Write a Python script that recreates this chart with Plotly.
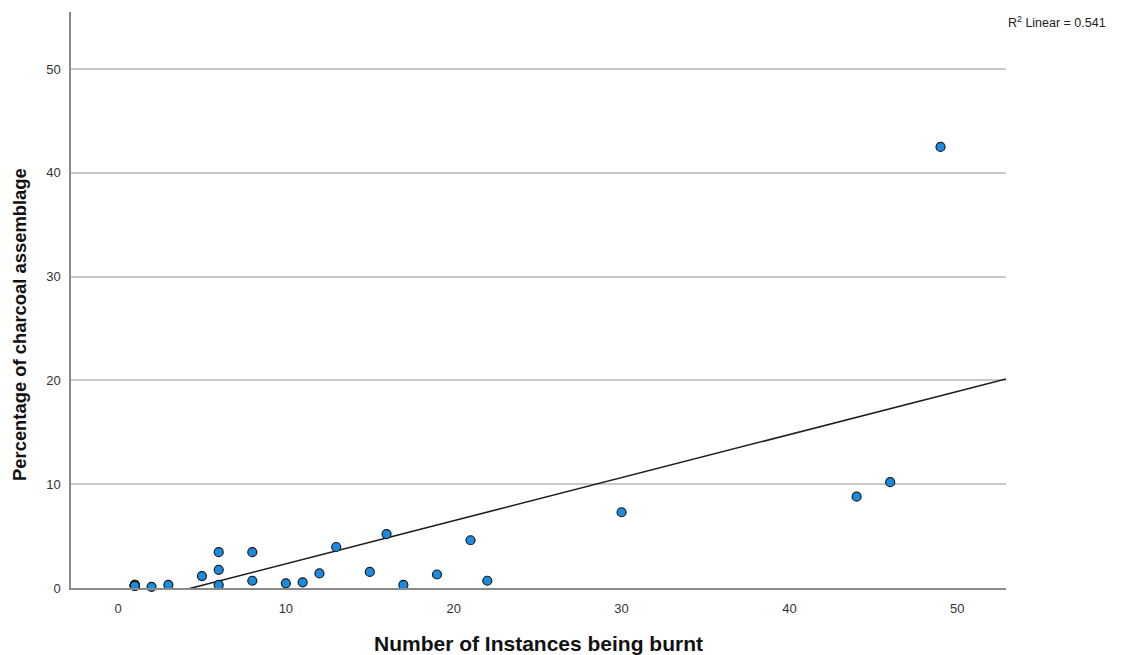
import numpy as np
import plotly.graph_objects as go

# Number of instances being burnt (x) vs percentage of charcoal assemblage (y)
instances = [1, 1, 1, 1, 1, 1, 1, 1, 2, 3, 5, 6, 6, 6, 8, 8, 10, 11, 12, 13,
             15, 16, 17, 19, 21, 22, 30, 44, 46, 49]
percentage = [0.3, 0.2, 0.25, 0.25, 0.2, 0.25, 0.3, 0.2, 0.1, 0.3, 1.15, 3.45, 1.75, 0.3,
              3.45, 0.7, 0.45, 0.55, 1.4, 3.95, 1.55, 5.2, 0.3, 1.3, 4.6, 0.7,
              7.3, 8.8, 10.2, 42.5]
x_ticks = [0, 10, 20, 30, 40, 50]
y_ticks = [0, 10, 20, 30, 40, 50]
r2_label = "R<sup>2</sup> Linear = 0.541"
x_title = "Number of Instances being burnt"
y_title = "Percentage of charcoal assemblage"

x_range = [-2.8, 52.9]
y_range = [0, 55.5]

slope, intercept = np.polyfit(instances, percentage, 1)
fit_x = np.array(x_range)
fit_y = slope * fit_x + intercept

fig = go.Figure()
fig.add_trace(go.Scatter(
    x=fit_x, y=fit_y, mode="lines",
    line=dict(color="#1e1e1e", width=1.6),
    hoverinfo="skip", showlegend=False,
))
fig.add_trace(go.Scatter(
    x=instances, y=percentage, mode="markers",
    marker=dict(size=9, color="#1b8be0", line=dict(color="#1a1a1a", width=1.2)),
    cliponaxis=False, showlegend=False,
))

fig.update_layout(
    width=1133, height=655,
    margin=dict(l=71, r=127, t=12, b=67),
    paper_bgcolor="white", plot_bgcolor="white",
    font=dict(family="Liberation Sans, Arial, sans-serif", color="#222"),
    xaxis=dict(
        range=x_range, tickvals=x_ticks, showgrid=False, zeroline=False,
        showline=True, linecolor="#8a8a8a", linewidth=1.5, ticks="",
        ticklabelstandoff=8, automargin=False,
        tickfont=dict(size=13, color="#333"),
        title=dict(text="<b>" + x_title + "</b>",
                   font=dict(size=21, color="#111"), standoff=28),
    ),
    yaxis=dict(
        range=y_range, tickvals=y_ticks, showgrid=True, gridcolor="#c8c8c8",
        gridwidth=1.5, zeroline=False, automargin=False,
        showline=True, linecolor="#8a8a8a", linewidth=1.5, ticks="",
        ticklabelstandoff=6,
        tickfont=dict(size=13, color="#333"),
    ),
    annotations=[
        dict(
            text=r2_label, xref="paper", yref="paper", x=1.0, y=1.0,
            xanchor="left", yanchor="top", showarrow=False,
            font=dict(size=12.5, color="#222"),
        ),
        dict(
            text="<b>" + y_title + "</b>", xref="paper", yref="paper",
            x=0, y=0.4566, xanchor="center", yanchor="middle", xshift=-51,
            textangle=-90, showarrow=False,
            font=dict(size=18.4, color="#111"),
        ),
    ],
)

fig.write_html("out.html")
